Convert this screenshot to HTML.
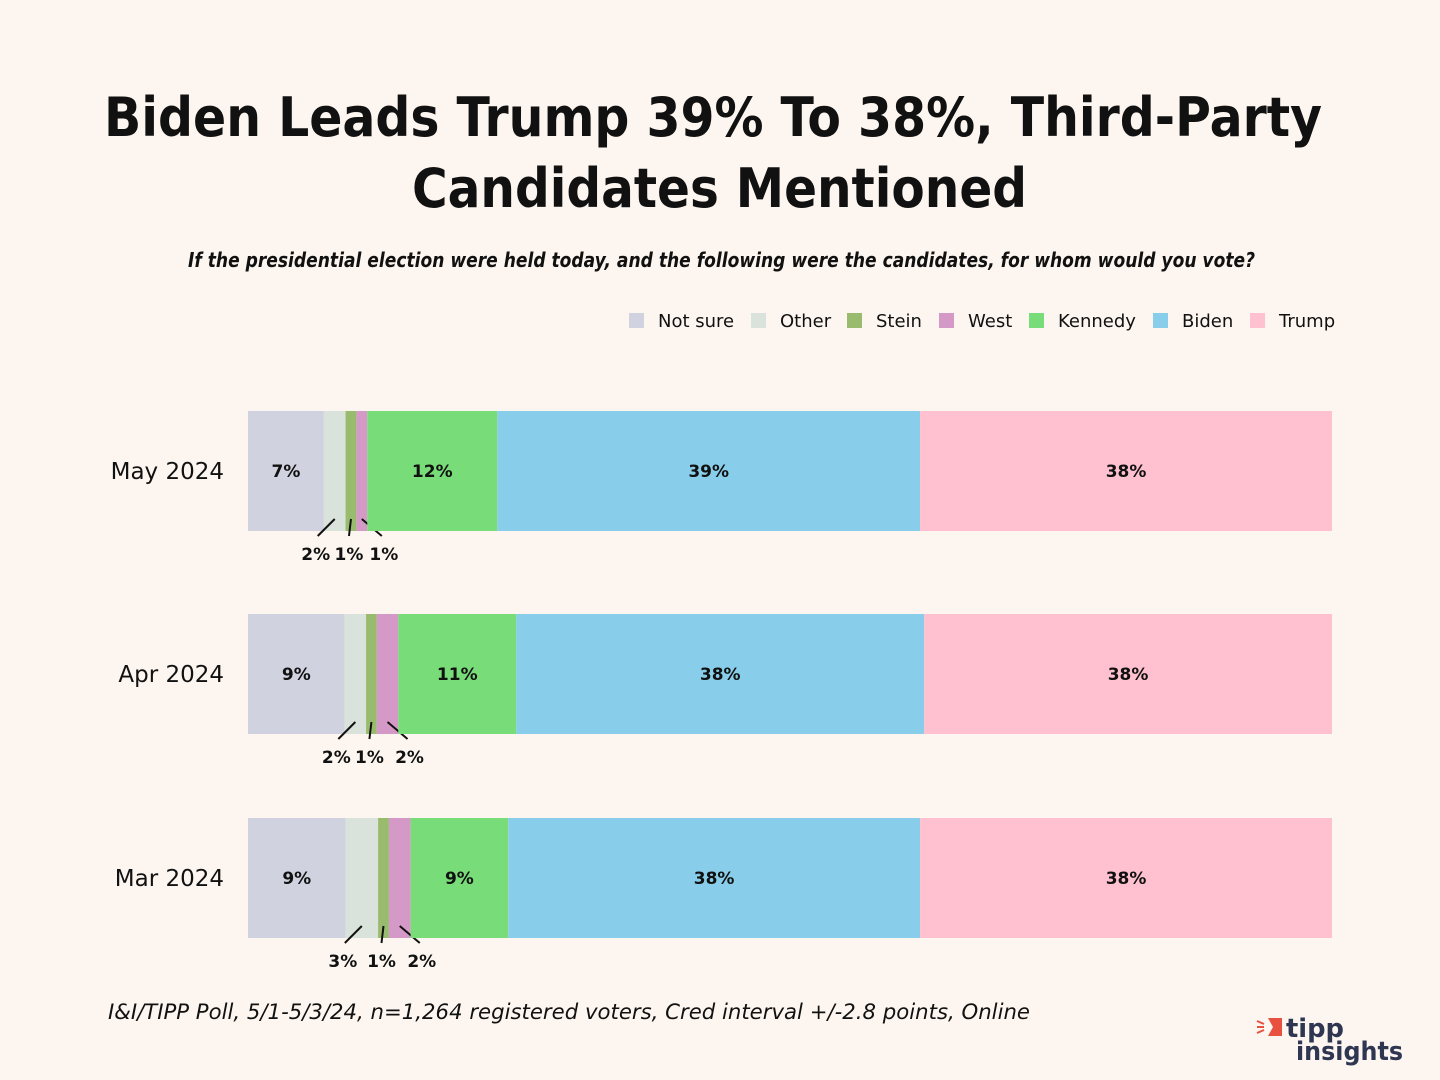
<!DOCTYPE html>
<html><head><meta charset="utf-8">
<style>
body{margin:0;background:#fdf6f0;}
#wrap{position:relative;width:1440px;height:1080px;background:#fdf6f0;font-family:"Liberation Sans","DejaVu Sans",sans-serif;overflow:hidden}
</style></head>
<body>
<div id="wrap">
<svg id="chart" width="1440" height="1080">
<text x="104" y="136" textLength="1218" lengthAdjust="spacingAndGlyphs" font-size="54" font-weight="bold" fill="#111" font-family="DejaVu Sans, sans-serif">Biden Leads Trump 39% To 38%, Third-Party</text>
<text x="412" y="207" textLength="615" lengthAdjust="spacingAndGlyphs" font-size="54" font-weight="bold" fill="#111" font-family="DejaVu Sans, sans-serif">Candidates Mentioned</text>
<text x="188" y="267" textLength="1067" lengthAdjust="spacingAndGlyphs" font-size="20" font-style="italic" font-weight="bold" fill="#111" font-family="DejaVu Sans, sans-serif">If the presidential election were held today, and the following were the candidates, for whom would you vote?</text>
<text x="108" y="1019" textLength="922" lengthAdjust="spacingAndGlyphs" font-size="21" font-style="italic" fill="#111" font-family="DejaVu Sans, sans-serif">I&amp;I/TIPP Poll, 5/1-5/3/24, n=1,264 registered voters, Cred interval +/-2.8 points, Online</text>
<g>
<path d="M1268 1018 L1282 1018 L1282 1036 L1268 1036 L1273 1027 Z" fill="#e8513f"/>
<line x1="1257" y1="1021" x2="1264" y2="1024" stroke="#e8513f" stroke-width="2"/>
<line x1="1257" y1="1027" x2="1264" y2="1027" stroke="#e8513f" stroke-width="2"/>
<line x1="1257" y1="1033" x2="1264" y2="1030" stroke="#e8513f" stroke-width="2"/>
<text x="1286" y="1037" textLength="58" lengthAdjust="spacingAndGlyphs" font-size="26" font-weight="bold" fill="#2f3652" font-family="DejaVu Sans, sans-serif">tipp</text>
<text x="1296" y="1060" textLength="107" lengthAdjust="spacingAndGlyphs" font-size="26" font-weight="bold" fill="#2f3652" font-family="DejaVu Sans, sans-serif">insights</text>
</g>
</svg>
</div>
<script>
const categories = ["May 2024","Apr 2024","Mar 2024"];
const seriesNames = ["Not sure","Other","Stein","West","Kennedy","Biden","Trump"];
const notSure = [7,9,9];
const other = [2,2,3];
const stein = [1,1,1];
const west = [1,2,2];
const kennedy = [12,11,9];
const biden = [39,38,38];
const trump = [38,38,38];
const colors = ["#d0d3df","#d9e3dc","#98bb6e","#d499c6","#78dc78","#88ceea","#ffc0cf"];
const series = [notSure,other,stein,west,kennedy,biden,trump];

const svg = document.getElementById('chart');
const NS = "http://www.w3.org/2000/svg";
const X0 = 248, X1 = 1332, barH = 120;
const rowY = [411, 614, 818];
function mk(tag, attrs){const e=document.createElementNS(NS,tag);for(const k in attrs)e.setAttribute(k,attrs[k]);svg.appendChild(e);return e;}
function xScale(v,total){return X0 + (X1-X0)*v/total;}

// legend
const legX = [629,751,847,939,1029,1153,1250];
seriesNames.forEach((n,i)=>{
  const r = mk('rect',{x:legX[i],y:313,width:15,height:15,fill:colors[i]});
  
  
  const t = mk('text',{x:legX[i]+29,y:327,'font-size':18,fill:'#111','font-family':'DejaVu Sans, sans-serif'});
  t.textContent = n;
  
  
});

categories.forEach((c,ri)=>{
  const y = rowY[ri];
  const total = series.reduce((s,a)=>s+a[ri],0);
  const lab = mk('text',{x:224,y:y+68,'text-anchor':'end','font-size':23,fill:'#111','font-family':'DejaVu Sans, sans-serif'});
  lab.textContent = c;
  
  
  let cum = 0;
  const offs = [0,-17,-2,20];
  series.forEach((arr,si)=>{
    const v = arr[ri];
    const xa = xScale(cum,total), xb = xScale(cum+v,total);
    cum += v;
    const r = mk('rect',{x:xa,y:y,width:xb-xa,height:barH,fill:colors[si]});
    
    
    const cx = (xa+xb)/2;
    if (si===0 || si>=4){
      const t = mk('text',{x:cx,y:y+66,'text-anchor':'middle','font-size':17,'font-weight':'bold',fill:'#111','font-family':'DejaVu Sans, sans-serif'});
      t.textContent = v+'%';
      
      
    } else {
      const ex = cx + offs[si];
      const l = mk('line',{x1:cx,y1:y+108,x2:ex,y2:y+125,stroke:'#111','stroke-width':2});
      
      
      const t = mk('text',{x:ex-(si===1?2:si===3?-2:0),y:y+149,'text-anchor':'middle','font-size':17,'font-weight':'bold',fill:'#111','font-family':'DejaVu Sans, sans-serif'});
      t.textContent = v+'%';
      
      
    }
  });
});
</script>
</body></html>
